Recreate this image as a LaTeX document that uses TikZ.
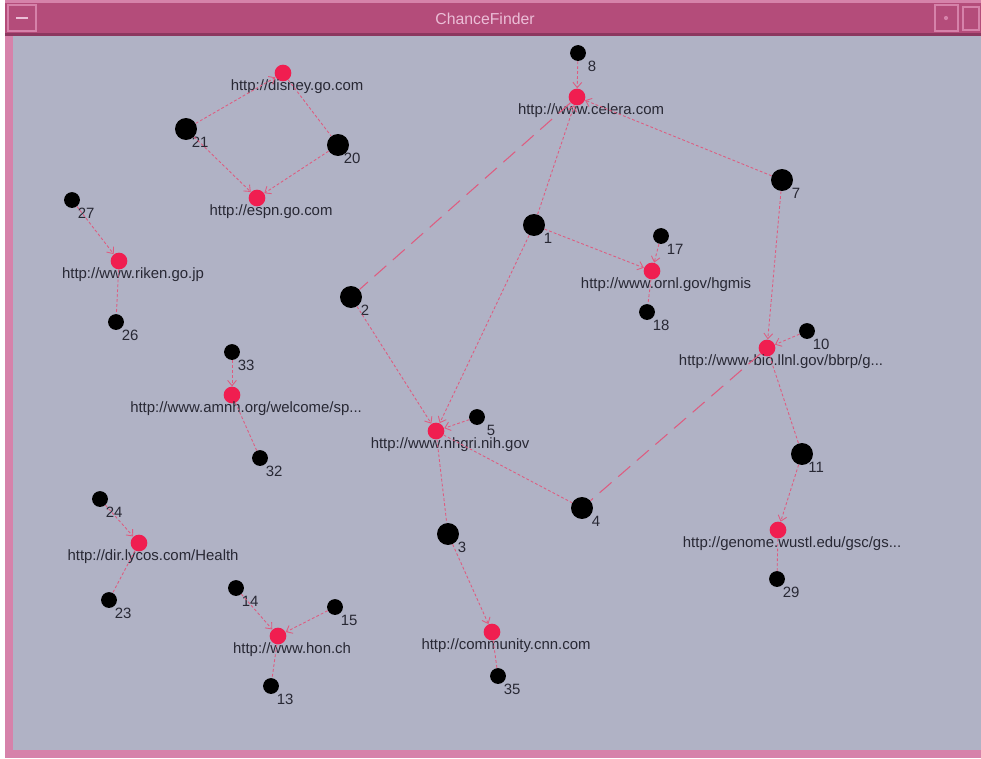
\documentclass[tikz,border=0pt]{standalone}
\usepackage{fontspec}
\setmainfont{Liberation Sans}
\usetikzlibrary{arrows.meta}
\definecolor{cfCanvas}{RGB}{176,178,197}
\definecolor{cfTitle}{RGB}{180,76,122}
\definecolor{cfTitleDk}{RGB}{140,55,95}
\definecolor{cfFrame}{RGB}{214,130,170}
\definecolor{cfRed}{RGB}{240,30,80}
\definecolor{cfEdge}{RGB}{222,92,128}
\definecolor{cfText}{RGB}{40,40,52}
\definecolor{cfHeadTxt}{RGB}{235,190,215}
\begin{document}
\begin{tikzpicture}[x=0.02cm, y=-0.02cm,
    cfBig/.style={circle, fill=black, inner sep=0pt, minimum size=12.5pt},
    cfSmall/.style={circle, fill=black, inner sep=0pt, minimum size=9pt},
    cfSite/.style={circle, fill=cfRed, inner sep=0pt, minimum size=9.5pt},
    cfTxt/.style={font=\fontsize{8.5}{9}\selectfont, text=cfText, inner sep=0pt, xshift=8pt, yshift=-7.8pt},
    cfTag/.style={label={[cfTxt]center:{#1}}},
    cfLink/.style={draw=cfEdge, line width=0.5pt, dash pattern=on 1.6pt off 1.2pt},
    cfLong/.style={draw=cfEdge, line width=0.6pt, dash pattern=on 9pt off 5pt},
    cfTo/.style={-{Straight Barb[length=3pt,width=5pt]}},
    cfHead/.style={font=\fontsize{9}{10}\selectfont, text=cfHeadTxt}
]
    \useasboundingbox (0,0) rectangle (981,758);

    % window frame
    \fill[white] (0,0) rectangle (981,758);
    \fill[cfFrame] (5,0) rectangle (981,758);
    \fill[cfTitleDk] (5,3) rectangle (981,36);
    \fill[cfTitle] (5,3) rectangle (981,33);
    \fill[cfCanvas] (13,36) rectangle (981,750);
    \draw[cfFrame, line width=0.8pt] (8,5) rectangle (36,31);
    \draw[cfHeadTxt, line width=0.8pt] (16,18) -- (28,18);
    \draw[cfFrame, line width=0.8pt] (935,5) rectangle (958,31);
    \fill[cfFrame] (946,18) circle (1.2pt);
    \draw[cfFrame, line width=0.8pt] (963,7) rectangle (979,30);
    \node[cfHead] (title) at (485,19) {ChanceFinder};

    % disney / espn
    \node[cfSite, cfTag={http://disney.go.com}] (disney) at (283,73) {};
    \node[cfBig, cfTag=21] (n21) at (186,129) {};
    \node[cfBig, cfTag=20] (n20) at (338,145) {};
    \node[cfSite, cfTag={http://espn.go.com}] (espn) at (257,198) {};

    % main cluster
    \node[cfSmall, cfTag=8] (n8) at (578,53) {};
    \node[cfSite, cfTag={http://www.celera.com}] (celera) at (577,97) {};
    \node[cfBig, cfTag=7] (n7) at (782,180) {};
    \node[cfBig, cfTag=1] (n1) at (534,225) {};
    \node[cfSmall, cfTag=17] (n17) at (661,236) {};
    \node[cfSite, cfTag={http://www.ornl.gov/hgmis}] (ornl) at (652,271) {};
    \node[cfSmall, cfTag=18] (n18) at (647,312) {};
    \node[cfBig, cfTag=2] (n2) at (351,297) {};
    \node[cfSmall, cfTag=10] (n10) at (807,331) {};
    \node[cfSite, cfTag={http://www-bio.llnl.gov/bbrp/g...}] (llnl) at (767,348) {};
    \node[cfSite, cfTag={http://www.nhgri.nih.gov}] (nhgri) at (436,431) {};
    \node[cfSmall, cfTag=5] (n5) at (477,417) {};
    \node[cfBig, cfTag=11] (n11) at (802,454) {};
    \node[cfBig, cfTag=4] (n4) at (582,508) {};
    \node[cfBig, cfTag=3] (n3) at (448,534) {};
    \node[cfSite, cfTag={http://genome.wustl.edu/gsc/gs...}] (genome) at (778,530) {};
    \node[cfSmall, cfTag=29] (n29) at (777,579) {};
    \node[cfSite, cfTag={http://community.cnn.com}] (cnn) at (492,632) {};
    \node[cfSmall, cfTag=35] (n35) at (498,676) {};

    % small clusters
    \node[cfSmall, cfTag=27] (n27) at (72,200) {};
    \node[cfSite, cfTag={http://www.riken.go.jp}] (riken) at (119,261) {};
    \node[cfSmall, cfTag=26] (n26) at (116,322) {};
    \node[cfSmall, cfTag=33] (n33) at (232,352) {};
    \node[cfSite, cfTag={http://www.amnh.org/welcome/sp...}] (amnh) at (232,395) {};
    \node[cfSmall, cfTag=32] (n32) at (260,458) {};
    \node[cfSmall, cfTag=24] (n24) at (100,499) {};
    \node[cfSite, cfTag={http://dir.lycos.com/Health}] (lycos) at (139,543) {};
    \node[cfSmall, cfTag=23] (n23) at (109,600) {};
    \node[cfSmall, cfTag=14] (n14) at (236,588) {};
    \node[cfSmall, cfTag=15] (n15) at (335,607) {};
    \node[cfSite, cfTag={http://www.hon.ch}] (hon) at (278,636) {};
    \node[cfSmall, cfTag=13] (n13) at (271,686) {};

    \draw[cfLink, cfTo] (n21) -- (disney);
    \draw[cfLink] (disney) -- (n20);
    \draw[cfLink, cfTo] (n21) -- (espn);
    \draw[cfLink, cfTo] (n20) -- (espn);

    \draw[cfLink, cfTo] (n8) -- (celera);
    \draw[cfLink, cfTo] (n1) -- (celera);
    \draw[cfLink, cfTo] (n7) -- (celera);
    \draw[cfLong] (celera) -- (n2);
    \draw[cfLink, cfTo] (n1) -- (ornl);
    \draw[cfLink, cfTo] (n17) -- (ornl);
    \draw[cfLink] (ornl) -- (n18);
    \draw[cfLink, cfTo] (n7) -- (llnl);
    \draw[cfLink, cfTo] (n10) -- (llnl);
    \draw[cfLink] (llnl) -- (n11);
    \draw[cfLong] (llnl) -- (n4);
    \draw[cfLink, cfTo] (n2) -- (nhgri);
    \draw[cfLink, cfTo] (n1) -- (nhgri);
    \draw[cfLink, cfTo] (n5) -- (nhgri);
    \draw[cfLink] (nhgri) -- (n4);
    \draw[cfLink] (nhgri) -- (n3);
    \draw[cfLink, cfTo] (n3) -- (cnn);
    \draw[cfLink] (cnn) -- (n35);
    \draw[cfLink, cfTo] (n11) -- (genome);
    \draw[cfLink] (genome) -- (n29);

    \draw[cfLink, cfTo] (n27) -- (riken);
    \draw[cfLink] (riken) -- (n26);
    \draw[cfLink, cfTo] (n33) -- (amnh);
    \draw[cfLink] (amnh) -- (n32);
    \draw[cfLink, cfTo] (n24) -- (lycos);
    \draw[cfLink] (lycos) -- (n23);
    \draw[cfLink, cfTo] (n14) -- (hon);
    \draw[cfLink, cfTo] (n15) -- (hon);
    \draw[cfLink] (hon) -- (n13);
\end{tikzpicture}
\end{document}
